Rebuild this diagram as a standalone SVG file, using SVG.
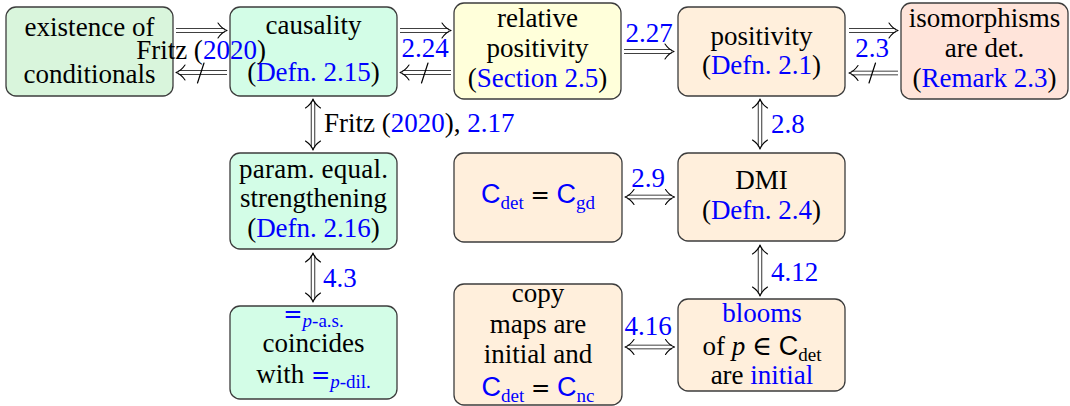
<svg xmlns="http://www.w3.org/2000/svg" xmlns:xlink="http://www.w3.org/1999/xlink" width="1070" height="406" viewBox="0 0 1070 406">
<style>
.box{stroke:#3c3c3c;stroke-width:1.3}
.g1{fill:#d9f5dc}
.g2{fill:#d3fde7}
.y{fill:#ffffda}
.o{fill:#ffefdc}
.r{fill:#ffe4da}
text{font-family:"Liberation Serif","DejaVu Serif",serif;font-size:27px;fill:#000}
.c{text-anchor:middle}
.b{fill:#0000ff}
.sf{font-family:"Liberation Sans","DejaVu Sans",sans-serif}
.sub{font-size:19px}
.eq{font-family:"DejaVu Sans",sans-serif;font-size:23px}
.it{font-style:italic}
.so{stroke:#000;stroke-width:4.4;fill:none}
.si{stroke:#fff;stroke-width:2.8;fill:none}
.hd{fill:none;stroke:#000;stroke-width:1.1;stroke-linecap:round;stroke-linejoin:round}
.sl{stroke:#000;stroke-width:1.2;stroke-linecap:round}
</style>
<defs>
<path id="head" class="hd" d="M-9,-7.5 C-6,-3 -3,-1 0,0 C-3,1 -6,3 -9,7.5"/>
</defs>

<g id="n1"><rect class="box g1" x="6" y="7" width="167" height="89" rx="10"/>
<text class="c" x="89.5" y="36" textLength="130" lengthAdjust="spacing">existence of</text>
<text class="c" x="89.5" y="83">conditionals</text></g>

<g id="n2"><rect class="box g2" x="230" y="7" width="167" height="89" rx="10"/>
<text class="c" x="313.5" y="34">causality</text>
<text class="c" x="313.5" y="81">(<tspan class="b">Defn. 2.15</tspan>)</text></g>

<g id="n3"><rect class="box y" x="454" y="3" width="167" height="96" rx="10"/>
<text class="c" x="537.5" y="27">relative</text>
<text class="c" x="537.5" y="57">positivity</text>
<text class="c" x="537.5" y="87">(<tspan class="b">Section 2.5</tspan>)</text></g>

<g id="n4"><rect class="box o" x="678" y="7" width="167" height="89" rx="10"/>
<text class="c" x="761.5" y="45">positivity</text>
<text class="c" x="761.5" y="74">(<tspan class="b">Defn. 2.1</tspan>)</text></g>

<g id="n5"><rect class="box r" x="901" y="3" width="167" height="96" rx="10"/>
<text class="c" x="984.5" y="27">isomorphisms</text>
<text class="c" x="984.5" y="57">are det.</text>
<text class="c" x="984.5" y="87">(<tspan class="b">Remark 2.3</tspan>)</text></g>

<g id="n6"><rect class="box g2" x="230" y="153" width="167" height="96" rx="10"/>
<text class="c" x="313.5" y="178" textLength="149" lengthAdjust="spacing">param. equal.</text>
<text class="c" x="313.5" y="207">strengthening</text>
<text class="c" x="313.5" y="237">(<tspan class="b">Defn. 2.16</tspan>)</text></g>

<g id="n7"><rect class="box o" x="454" y="153" width="168" height="89" rx="10"/>
<text class="c" x="538" y="203"><tspan class="sf b">C</tspan><tspan class="sub b" dy="6">det</tspan><tspan dy="-6"> </tspan><tspan class="eq">=</tspan><tspan> </tspan><tspan class="sf b">C</tspan><tspan class="sub b" dy="6">gd</tspan></text></g>

<g id="n8"><rect class="box o" x="678" y="153" width="167" height="88" rx="10"/>
<text class="c" x="761.5" y="189">DMI</text>
<text class="c" x="761.5" y="219">(<tspan class="b">Defn. 2.4</tspan>)</text></g>

<g id="n9"><rect class="box g2" x="230" y="306" width="167" height="93" rx="10"/>
<text class="c b" x="313.5" y="322"><tspan class="eq">=</tspan><tspan class="sub" dy="5"><tspan class="it">p</tspan>-a.s.</tspan></text>
<text class="c" x="313.5" y="352">coincides</text>
<text class="c" x="313.5" y="383">with <tspan class="b eq">=</tspan><tspan class="sub b" dy="5"><tspan class="it">p</tspan>-dil.</tspan></text></g>

<g id="n10"><rect class="box o" x="678" y="299" width="167" height="92" rx="10"/>
<text class="c b" x="762" y="322">blooms</text>
<text class="c" x="762" y="355">of <tspan class="it">p</tspan> ∈ <tspan class="sf">C</tspan><tspan class="sub" dy="6">det</tspan></text>
<text class="c" x="762" y="384">are <tspan class="b">initial</tspan></text></g>

<g id="n11"><rect class="box o" x="454" y="284" width="168" height="121" rx="10"/>
<text class="c" x="538" y="302">copy</text>
<text class="c" x="538" y="333">maps are</text>
<text class="c" x="538" y="363">initial and</text>
<text class="c" x="538" y="396"><tspan class="sf b">C</tspan><tspan class="sub b" dy="6">det</tspan><tspan dy="-6"> </tspan><tspan class="eq">=</tspan><tspan> </tspan><tspan class="sf b">C</tspan><tspan class="sub b" dy="6">nc</tspan></text></g>

<g id="connectors">
<line class="so" x1="176" y1="30.5" x2="224.5" y2="30.5"/><line class="si" x1="176" y1="30.5" x2="224.5" y2="30.5"/>
<use xlink:href="#head" href="#head" transform="translate(227,30.5)"/>
<line class="so" x1="178.5" y1="72.5" x2="227" y2="72.5"/><line class="si" x1="178.5" y1="72.5" x2="227" y2="72.5"/>
<use xlink:href="#head" href="#head" transform="translate(176,72.5) rotate(180)"/>
<line class="sl" x1="204" y1="63" x2="197.5" y2="83"/>
<text class="c" x="201" y="59">Fritz (<tspan class="b">2020</tspan>)</text>

<line class="so" x1="400" y1="30.5" x2="448.5" y2="30.5"/><line class="si" x1="400" y1="30.5" x2="448.5" y2="30.5"/>
<use xlink:href="#head" href="#head" transform="translate(451,30.5)"/>
<line class="so" x1="402.5" y1="72.5" x2="451" y2="72.5"/><line class="si" x1="402.5" y1="72.5" x2="451" y2="72.5"/>
<use xlink:href="#head" href="#head" transform="translate(400,72.5) rotate(180)"/>
<line class="sl" x1="428" y1="63" x2="421.5" y2="83"/>
<text class="c b" x="425" y="57">2.24</text>

<line class="so" x1="624" y1="51.5" x2="671.5" y2="51.5"/><line class="si" x1="624" y1="51.5" x2="671.5" y2="51.5"/>
<use xlink:href="#head" href="#head" transform="translate(674,51.5)"/>
<text class="c b" x="649" y="42">2.27</text>

<line class="so" x1="849" y1="30.5" x2="895.5" y2="30.5"/><line class="si" x1="849" y1="30.5" x2="895.5" y2="30.5"/>
<use xlink:href="#head" href="#head" transform="translate(898,30.5)"/>
<line class="so" x1="851.5" y1="73" x2="898" y2="73"/><line class="si" x1="851.5" y1="73" x2="898" y2="73"/>
<use xlink:href="#head" href="#head" transform="translate(849,73) rotate(180)"/>
<line class="sl" x1="875.5" y1="63" x2="869" y2="83"/>
<text class="c b" x="872" y="57">2.3</text>

<line class="so" x1="313" y1="101.5" x2="313" y2="147.5"/><line class="si" x1="313" y1="101.5" x2="313" y2="147.5"/>
<use xlink:href="#head" href="#head" transform="translate(313,99) rotate(-90)"/>
<use xlink:href="#head" href="#head" transform="translate(313,150) rotate(90)"/>
<text x="324" y="132">Fritz (<tspan class="b">2020</tspan>), <tspan class="b">2.17</tspan></text>

<line class="so" x1="760" y1="101.5" x2="760" y2="146.5"/><line class="si" x1="760" y1="101.5" x2="760" y2="146.5"/>
<use xlink:href="#head" href="#head" transform="translate(760,99) rotate(-90)"/>
<use xlink:href="#head" href="#head" transform="translate(760,149) rotate(90)"/>
<text class="b" x="771" y="133">2.8</text>

<line class="so" x1="627.5" y1="197" x2="672" y2="197"/><line class="si" x1="627.5" y1="197" x2="672" y2="197"/>
<use xlink:href="#head" href="#head" transform="translate(625,197) rotate(180)"/>
<use xlink:href="#head" href="#head" transform="translate(674.5,197)"/>
<text class="c b" x="648" y="187">2.9</text>

<line class="so" x1="760" y1="247.5" x2="760" y2="293.5"/><line class="si" x1="760" y1="247.5" x2="760" y2="293.5"/>
<use xlink:href="#head" href="#head" transform="translate(760,245) rotate(-90)"/>
<use xlink:href="#head" href="#head" transform="translate(760,296) rotate(90)"/>
<text class="b" x="771" y="281">4.12</text>

<line class="so" x1="313" y1="255.5" x2="313" y2="299.5"/><line class="si" x1="313" y1="255.5" x2="313" y2="299.5"/>
<use xlink:href="#head" href="#head" transform="translate(313,253) rotate(-90)"/>
<use xlink:href="#head" href="#head" transform="translate(313,302) rotate(90)"/>
<text class="b" x="323" y="287">4.3</text>

<line class="so" x1="627.5" y1="347" x2="672" y2="347"/><line class="si" x1="627.5" y1="347" x2="672" y2="347"/>
<use xlink:href="#head" href="#head" transform="translate(625,347) rotate(180)"/>
<use xlink:href="#head" href="#head" transform="translate(674.5,347)"/>
<text class="c b" x="648" y="335">4.16</text>
</g>
</svg>
